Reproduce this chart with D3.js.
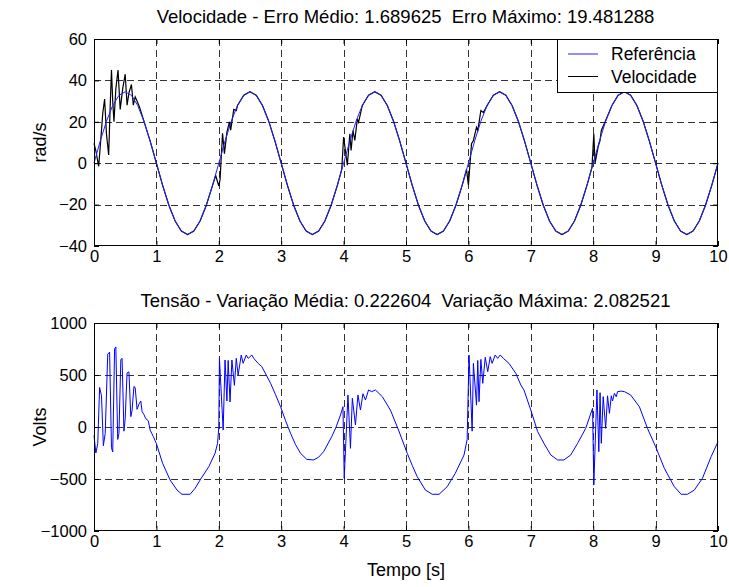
<!DOCTYPE html>
<html><head><meta charset="utf-8">
<script src="https://cdn.jsdelivr.net/npm/d3@7"></script>
<style>body{margin:0;background:#fff}svg{display:block}text{font-family:"Liberation Sans",Arial,sans-serif;fill:#000;white-space:pre}</style>
</head><body><svg id="c" width="729" height="587"></svg>
<script>
// ---- data ----
const refTime = d3.range(0, 10.0001, 0.1);
const refValues = [0,10.7,20.3,27.9,32.8,34.5,32.8,27.9,20.3,10.7,0,-10.7,-20.3,-27.9,-32.8,-34.5,-32.8,-27.9,-20.3,-10.7,
 0,10.7,20.3,27.9,32.8,34.5,32.8,27.9,20.3,10.7,0,-10.7,-20.3,-27.9,-32.8,-34.5,-32.8,-27.9,-20.3,-10.7,
 0,10.7,20.3,27.9,32.8,34.5,32.8,27.9,20.3,10.7,0,-10.7,-20.3,-27.9,-32.8,-34.5,-32.8,-27.9,-20.3,-10.7,
 0,10.7,20.3,27.9,32.8,34.5,32.8,27.9,20.3,10.7,0,-10.7,-20.3,-27.9,-32.8,-34.5,-32.8,-27.9,-20.3,-10.7,
 0,10.7,20.3,27.9,32.8,34.5,32.8,27.9,20.3,10.7,0,-10.7,-20.3,-27.9,-32.8,-34.5,-32.8,-27.9,-20.3,-10.7,0];

const velTime = [0,0.03,0.075,0.1,0.14,0.17,0.2,0.235,0.26,0.28,0.3,0.32,0.35,0.385,0.42,0.46,0.5,0.53,0.56,0.6,0.63,0.66,0.69,0.73,0.8,0.9,1.0,1.1,1.2,1.3,1.4,1.5,1.6,1.7,1.8,1.9,1.95,
 2.0,2.02,2.06,2.09,2.13,2.17,2.19,2.24,2.28,2.3,2.4,2.5,2.6,2.7,2.8,2.9,3.0,3.1,3.2,3.3,3.4,3.5,3.6,3.7,3.8,3.9,3.97,
 4.0,4.06,4.1,4.12,4.15,4.18,4.22,4.24,4.3,4.4,4.5,4.6,4.7,4.8,4.9,5.0,5.1,5.2,5.3,5.4,5.5,5.6,5.7,5.8,5.9,5.97,
 6.0,6.05,6.08,6.13,6.15,6.2,6.24,6.3,6.4,6.5,6.6,6.7,6.8,6.9,7.0,7.1,7.2,7.3,7.4,7.5,7.6,7.7,7.8,7.9,7.98,
 8.01,8.03,8.08,8.11,8.13,8.2,8.3,8.4,8.5,8.6,8.7,8.8,8.9,9.0,9.1,9.2,9.3,9.4,9.5,9.6,9.7,9.8,9.9,10.0];
const velValues = [9.6,6,-1.5,8,24,31,14,4,28,45,30,20,36,45,26,36,43,28,34,38,28,32,30,27,20.3,10.7,0,-10.7,-20.3,-27.9,-32.8,-34.5,-32.8,-27.9,-20.3,-10.7,-6,
 -11,-8,14.5,4.6,15,20,16,26,25.4,27.9,32.8,34.5,32.8,27.9,20.3,10.7,0,-10.7,-20.3,-27.9,-32.8,-34.5,-32.8,-27.9,-20.3,-10.7,-3,
 12.6,-1,14.2,6.2,15.8,11,21.4,19.8,27.9,32.8,34.5,32.8,27.9,20.3,10.7,0,-10.7,-20.3,-27.9,-32.8,-34.5,-32.8,-27.9,-20.3,-10.7,-3,
 -10.6,9.4,11,17.4,15.8,25.4,24.5,27.9,32.8,34.5,32.8,27.9,20.3,10.7,0,-10.7,-20.3,-27.9,-32.8,-34.5,-32.8,-27.9,-20.3,-10.7,-2,
 14.2,0,8,11,15.8,20.6,27.9,32.8,34.5,32.8,27.9,20.3,10.7,0,-10.7,-20.3,-27.9,-32.8,-34.5,-32.8,-27.9,-20.3,-10.7,0];

const voltTime = [0,0.03,0.06,0.09,0.12,0.15,0.18,0.22,0.25,0.28,0.3,0.33,0.35,0.38,0.4,0.43,0.45,0.48,0.5,0.53,0.56,0.59,0.61,0.64,0.66,0.69,0.72,0.75,0.77,0.8,0.83,0.87,0.9,0.95,
 1.0,1.1,1.22,1.33,1.41,1.54,1.62,1.7,1.84,1.94,1.98,2.0,2.01,2.07,2.1,2.13,2.15,2.18,2.21,2.25,2.28,2.31,2.36,2.39,2.44,2.47,2.53,2.56,2.63,2.69,2.76,2.83,2.91,2.99,
 3.07,3.15,3.23,3.31,3.41,3.52,3.6,3.68,3.81,3.88,3.95,3.99,4.01,4.07,4.11,4.14,4.19,4.23,4.27,4.31,4.35,4.4,4.45,4.51,4.62,4.75,4.88,
 5.02,5.1,5.18,5.31,5.42,5.53,5.66,5.79,5.93,5.98,6.01,6.06,6.08,6.13,6.15,6.17,6.2,6.23,6.27,6.31,6.35,6.38,6.43,6.47,6.51,6.56,6.65,6.76,6.84,6.89,
 7.0,7.11,7.21,7.32,7.43,7.53,7.64,7.75,7.88,7.99,8.01,8.06,8.09,8.11,8.13,8.16,8.2,8.23,8.26,8.29,8.31,8.34,8.37,8.39,8.45,8.5,8.6,8.74,8.87,
 9.0,9.14,9.3,9.41,9.51,9.62,9.75,9.89,10.0];
const voltValues = [-80,-250,-160,380,300,-180,-60,700,720,-200,-240,750,770,-120,-60,650,660,-40,80,520,530,100,160,390,380,170,220,250,150,120,80,60,-30,-90,
 -160,-350,-510,-606,-647,-647,-590,-510,-381,-253,-157,0,660,-29,644,250,640,240,644,400,660,500,692,612,692,660,692,660,612,580,500,420,310,195,
 60,-61,-170,-253,-311,-317,-290,-237,-93,0,115,195,-494,308,-205,276,19,308,163,320,260,356,340,356,292,163,-29,
 -253,-370,-478,-606,-647,-647,-574,-445,-269,-120,692,-40,612,210,640,243,650,420,670,532,676,612,692,660,692,660,612,516,404,356,
 163,-45,-157,-269,-317,-317,-269,-157,-13,180,-558,356,-237,330,-157,292,-13,300,131,300,250,324,290,340,345,340,308,195,-13,
 -189,-397,-574,-647,-647,-606,-494,-285,-141];

const xTicks = [0,1,2,3,4,5,6,7,8,9,10];
const velTicks = [-40,-20,0,20,40,60];
const voltTicks = [-1000,-500,0,500,1000];
const topTitle = "Velocidade - Erro Médio: 1.689625  Erro Máximo: 19.481288";
const botTitle = "Tensão - Variação Média: 0.222604  Variação Máxima: 2.082521";
const legendNames = ["Referência", "Velocidade"];

// ---- drawing ----
const svg = d3.select("#c");
const L = 94, R = 718;
const FT = 16.5, FL = 18;
const x = d3.scaleLinear().domain([0, 10]).range([L, R]);

function panel(top, bottom, yDomain, yTicks, title, ylabel) {
  const y = d3.scaleLinear().domain(yDomain).range([bottom, top]);
  const g = svg.append("g");
  g.append("rect").attr("x", L).attr("y", top).attr("width", R - L).attr("height", bottom - top).attr("fill", "#fff");
  g.selectAll(".gx").data(xTicks.slice(1, -1)).enter().append("line")
    .attr("x1", d => Math.round(x(d)) + 0.5).attr("x2", d => Math.round(x(d)) + 0.5)
    .attr("y1", top).attr("y2", bottom).attr("stroke", "#333").attr("stroke-dasharray", "7,4");
  g.selectAll(".gy").data(yTicks.slice(1, -1)).enter().append("line")
    .attr("y1", d => Math.round(y(d)) + 0.5).attr("y2", d => Math.round(y(d)) + 0.5)
    .attr("x1", L).attr("x2", R).attr("stroke", "#333").attr("stroke-dasharray", "7,4");
  g.append("g").attr("transform", `translate(0,${bottom})`)
    .call(d3.axisBottom(x).tickValues(xTicks).tickSize(-5).tickPadding(4).tickFormat(d3.format("d")));
  g.append("g").attr("transform", `translate(${L},0)`)
    .call(d3.axisLeft(y).tickValues(yTicks).tickSize(-5).tickPadding(7).tickFormat(d3.format("d")));
  g.append("g").attr("transform", `translate(0,${top})`)
    .call(d3.axisTop(x).tickValues(xTicks).tickSize(-5).tickFormat(""));
  g.append("g").attr("transform", `translate(${R},0)`)
    .call(d3.axisRight(y).tickValues(yTicks).tickSize(-5).tickFormat(""));
  g.selectAll(".domain").remove();
  g.selectAll(".tick text").attr("font-size", FT).attr("font-family", "Liberation Sans, Arial, sans-serif").attr("fill", "#000");
  g.selectAll(".tick line").attr("stroke", "#000");
  g.append("text").attr("x", (L + R) / 2 - 0.5).attr("y", top - 16).attr("text-anchor", "middle").attr("font-size", 18.5).text(title);
  g.append("text").attr("transform", `translate(${L - 48},${(top + bottom) / 2}) rotate(-90)`)
    .attr("text-anchor", "middle").attr("font-size", FL).text(ylabel);
  return { g, y, top, bottom };
}

const p1 = panel(39, 246, [-40, 60], velTicks, topTitle, "rad/s");
const p2 = panel(323, 531, [-1000, 1000], voltTicks, botTitle, "Volts");

const velLine = d3.line().x((d, i) => x(velTime[i])).y(d => p1.y(d));
p1.g.append("path").datum(velValues).attr("d", velLine).attr("fill", "none").attr("stroke", "#000").attr("stroke-width", 1.2);
const refLine = d3.line().x((d, i) => x(refTime[i])).y(d => p1.y(d));
p1.g.append("path").datum(refValues).attr("d", refLine).attr("fill", "none").attr("stroke", "#2020ff").attr("stroke-width", 1);

const voltLine = d3.line().x((d, i) => x(voltTime[i])).y(d => p2.y(d));
p2.g.append("path").datum(voltValues).attr("d", voltLine).attr("fill", "none").attr("stroke", "#0000ff").attr("stroke-width", 1);

[p1, p2].forEach(p => p.g.append("rect").attr("x", L + 0.5).attr("y", p.top + 0.5).attr("width", R - L - 1).attr("height", p.bottom - p.top - 1)
  .attr("fill", "none").attr("stroke", "#000"));

// legend
const lg = p1.g.append("g");
lg.append("rect").attr("x", 557.5).attr("y", 39.5).attr("width", 160).attr("height", 53).attr("fill", "#fff").attr("stroke", "#000");
const legColors = ["#2020ff", "#000"];
legendNames.forEach((n, i) => {
  const yy = 54 + i * 22.5;
  lg.append("line").attr("x1", 568).attr("x2", 598).attr("y1", yy).attr("y2", yy).attr("stroke", legColors[i]);
  lg.append("text").attr("x", 611).attr("y", yy + 6).attr("font-size", 17.5).text(n);
});

svg.append("text").attr("x", (L + R) / 2).attr("y", 576).attr("text-anchor", "middle").attr("font-size", FL).text("Tempo [s]");
</script></body></html>
